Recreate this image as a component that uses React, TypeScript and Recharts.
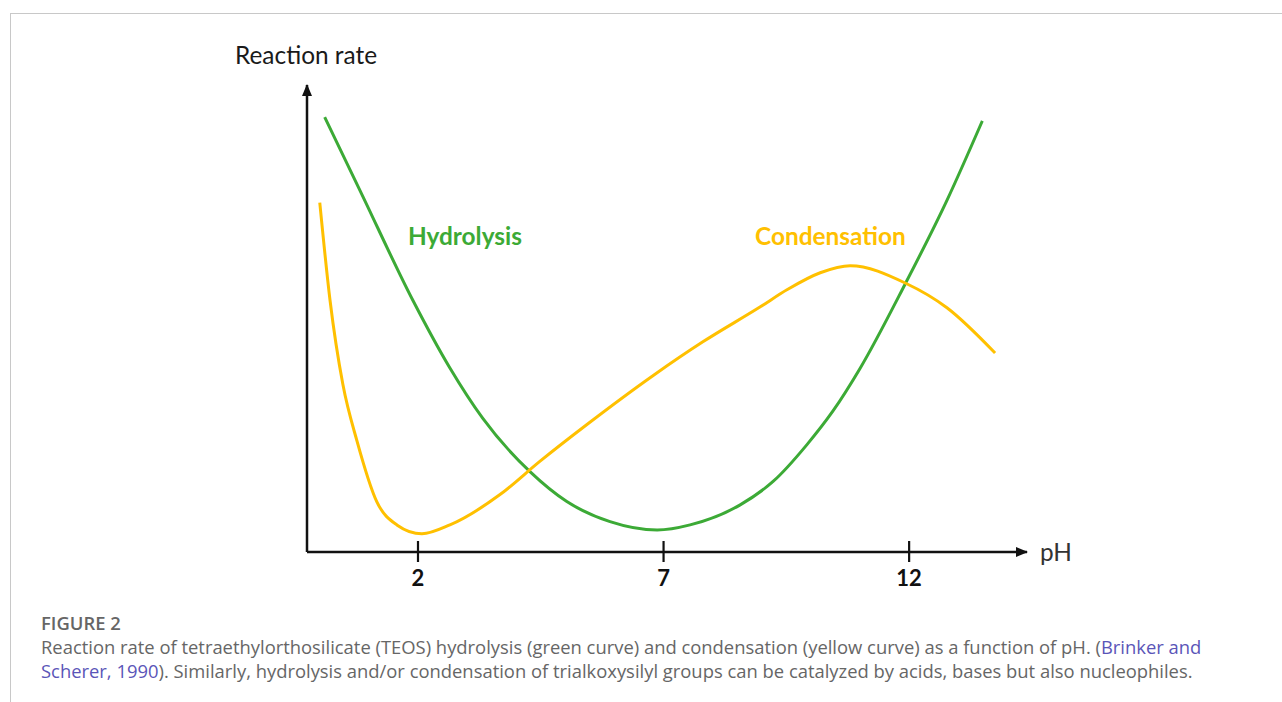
import { Line, LineChart, XAxis, YAxis } from 'recharts'

// pH positions (x) and relative reaction rate (y)
const hydrolysisPh = [0.1, 0.82, 1.9, 2.65, 3.32, 4.28, 5.03, 5.91, 6.87, 7.54, 8.56, 9.23, 9.92, 10.45, 11.0, 11.92, 12.77, 13.49]
const hydrolysisRate = [93.1, 77.4, 53.8, 39.4, 28.6, 17.2, 10.8, 6.5, 4.7, 5.8, 10.1, 15.1, 23.0, 30.2, 39.3, 57.4, 75.3, 92.3]

const condensationPh = [0.0, 0.21, 0.47, 0.76, 1.16, 1.57, 2.08, 2.65, 3.67, 4.48, 5.44, 6.79, 7.8, 8.97, 9.52, 10.19, 10.8, 11.92, 12.77, 13.75]
const condensationRate = [74.8, 53.8, 35.9, 23.7, 10.8, 5.8, 3.9, 5.8, 12.3, 19.4, 27.3, 37.8, 45.0, 52.5, 56.2, 59.8, 61.3, 57.6, 52.3, 42.6]

const phTicks = [2, 7, 12]

const hydrolysis = hydrolysisPh.map((ph, i) => ({ ph, rate: hydrolysisRate[i] }))
const condensation = condensationPh.map((ph, i) => ({ ph, rate: condensationRate[i] }))

const GREEN = '#3caa36'
const YELLOW = '#ffc000'
const LABEL_FONT = 'Lato, "Open Sans", sans-serif'
const CAPTION_FONT = '"Open Sans", "Noto Sans", sans-serif'

const PhTick = ({ x, y, payload }: any) => (
  <g>
    <line x1={x} x2={x} y1={y - 11} y2={y + 10} stroke="#111" strokeWidth={2.2} />
    <text
      x={x}
      y={y + 34}
      textAnchor="middle"
      fontFamily={LABEL_FONT}
      fontWeight={700}
      fontSize={22}
      fill="#111"
    >
      {payload.value}
    </text>
  </g>
)

export default function App() {
  return (
    <div style={{ position: 'absolute', left: 0, top: 0, width: 1282, height: 702, background: '#fff', overflow: 'hidden' }}>
      <svg width={0} height={0} style={{ position: 'absolute' }}>
        <defs>
          <marker
            id="axisArrow"
            viewBox="0 0 12 10"
            refX={11}
            refY={5}
            markerWidth={12}
            markerHeight={10}
            markerUnits="userSpaceOnUse"
            orient="auto-start-reverse"
          >
            <path d="M0,0 L12,5 L0,10 z" fill="#111" />
          </marker>
        </defs>
      </svg>

      {/* frame */}
      <div style={{ position: 'absolute', left: 10, top: 13, right: 0, height: 1, background: '#c8c8c8' }} />
      <div style={{ position: 'absolute', left: 10, top: 13, bottom: 0, width: 1, background: '#c8c8c8' }} />

      <div style={{ position: 'absolute', left: 0, top: 0 }}>
        <LineChart
          width={1282}
          height={702}
          margin={{ top: 85, left: 297, right: 255, bottom: 110 }}
        >
          <XAxis
            type="number"
            dataKey="ph"
            domain={[-0.26, 14.4]}
            ticks={phTicks}
            allowDataOverflow
            height={40}
            tickSize={0}
            tickMargin={0}
            tickLine={false}
            tick={<PhTick />}
            axisLine={{ stroke: '#111', strokeWidth: 2.5, markerEnd: 'url(#axisArrow)' } as any}
          />
          <YAxis
            type="number"
            domain={[0, 100]}
            width={10}
            tick={false}
            tickLine={false}
            axisLine={{ stroke: '#111', strokeWidth: 2.5, markerStart: 'url(#axisArrow)' } as any}
          />
          <Line
            data={hydrolysis}
            dataKey="rate"
            type="monotone"
            stroke={GREEN}
            strokeWidth={3}
            dot={false}
            isAnimationActive={false}
          />
          <Line
            data={condensation}
            dataKey="rate"
            type="monotone"
            stroke={YELLOW}
            strokeWidth={3}
            dot={false}
            isAnimationActive={false}
          />
        </LineChart>
      </div>

      <div style={{ position: 'absolute', left: 235, top: 40, fontFamily: LABEL_FONT, fontSize: 24.4, color: '#1a1a1a', whiteSpace: 'nowrap' }}>
        Reaction rate
      </div>
      <div style={{ position: 'absolute', left: 1040, top: 537, fontFamily: LABEL_FONT, fontSize: 24.4, color: '#333', whiteSpace: 'nowrap' }}>
        pH
      </div>
      <div style={{ position: 'absolute', left: 408, top: 221, fontFamily: LABEL_FONT, fontWeight: 700, fontSize: 24.4, color: GREEN, whiteSpace: 'nowrap' }}>
        Hydrolysis
      </div>
      <div style={{ position: 'absolute', left: 755, top: 221, fontFamily: LABEL_FONT, fontWeight: 700, fontSize: 24.4, color: YELLOW, whiteSpace: 'nowrap' }}>
        Condensation
      </div>

      <div style={{ position: 'absolute', left: 41, top: 611, fontFamily: CAPTION_FONT, fontSize: 18.4, color: '#666', whiteSpace: 'nowrap', lineHeight: '24px' }}>
        <div style={{ fontWeight: 600 }}>FIGURE 2</div>
        <div>
          Reaction rate of tetraethylorthosilicate (TEOS) hydrolysis (green curve) and condensation (yellow curve) as a function of pH. (
          <span style={{ color: '#5a55b8' }}>Brinker and</span>
        </div>
        <div>
          <span style={{ color: '#5a55b8' }}>Scherer, 1990</span>). Similarly, hydrolysis and/or condensation of trialkoxysilyl groups can be catalyzed by acids, bases but also nucleophiles.
        </div>
      </div>
    </div>
  )
}
